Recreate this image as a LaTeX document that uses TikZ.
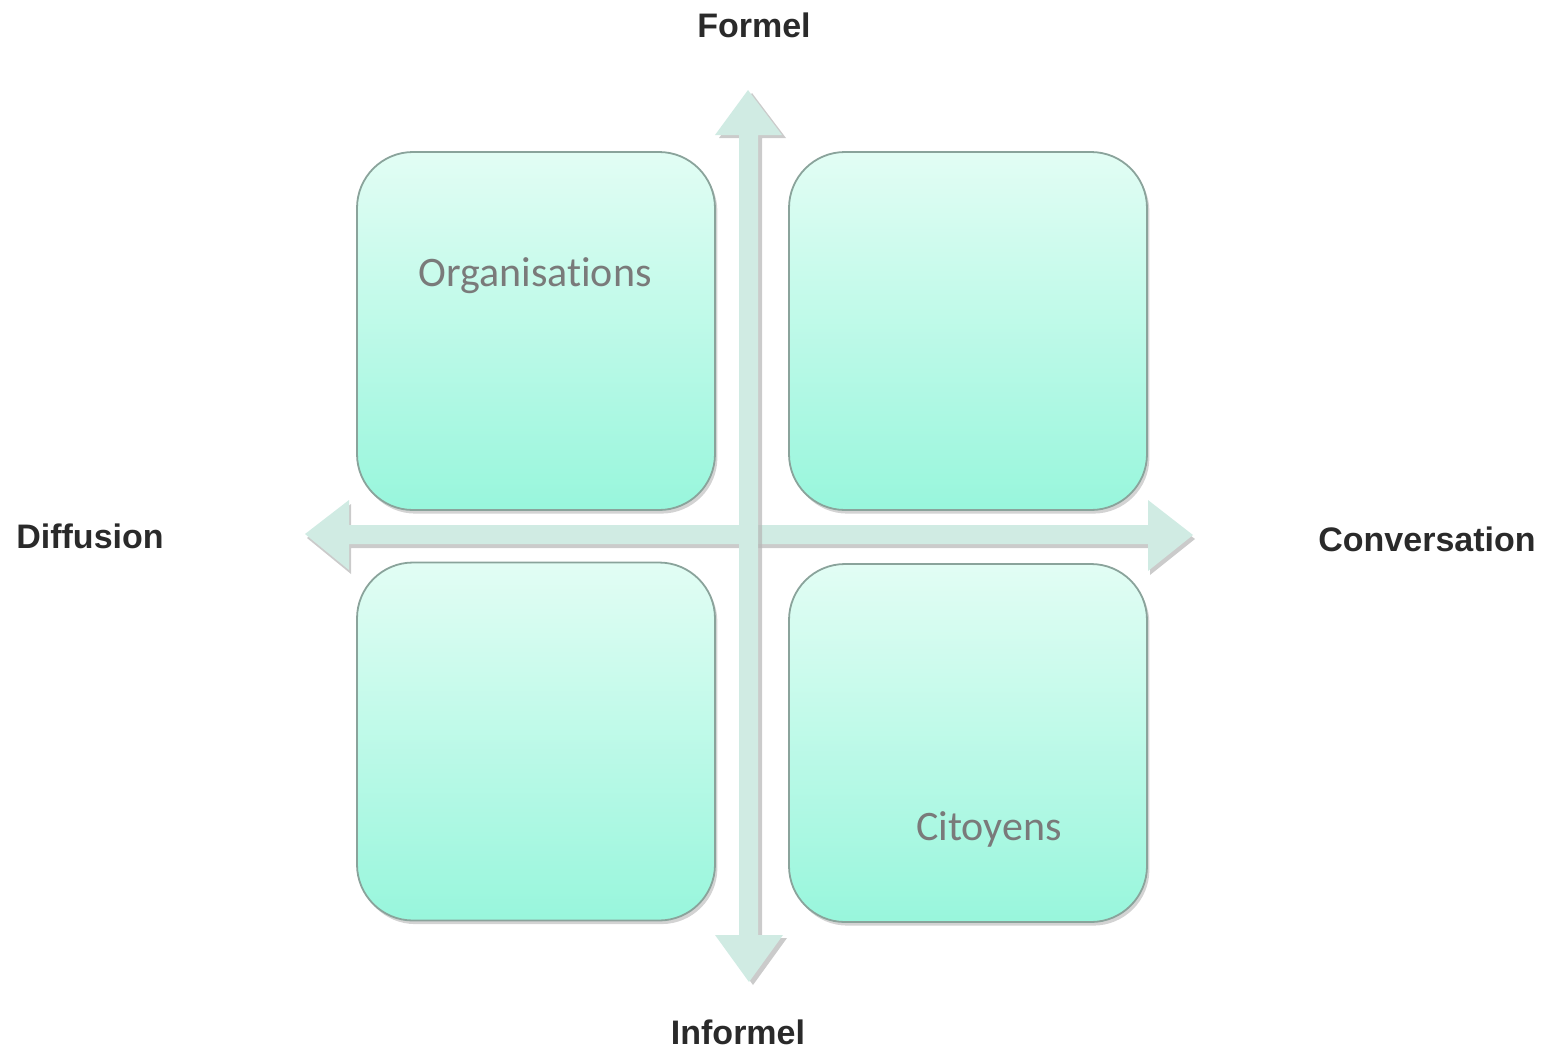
\documentclass[tikz,border=0pt]{standalone}
\usepackage{fontspec}
\setmainfont{Liberation Sans}
\newfontfamily\boxfont[Ligatures=NoCommon]{Carlito}
\usetikzlibrary{shadows}
\definecolor{arrowfill}{HTML}{D0EBE3}
\definecolor{arrowshadow}{HTML}{B5B5B5}
\definecolor{boxtop}{HTML}{E2FDF4}
\definecolor{boxbottom}{HTML}{98F6DC}
\definecolor{boxborder}{HTML}{8AA39B}
\definecolor{labeltext}{HTML}{2A2A2A}
\definecolor{boxtext}{HTML}{7A7A7A}
\tikzset{
  quad/.style={draw=boxborder, line width=0.9pt, rounded corners=28pt,
    top color=boxtop, bottom color=boxbottom,
    minimum width=179pt, minimum height=179pt, inner sep=0pt,
    drop shadow={opacity=0.35, shadow xshift=1.2pt, shadow yshift=-1.8pt}},
  axislabel/.style={font=\fontsize{17}{20}\selectfont\bfseries, text=labeltext, inner sep=0pt},
  quadlabel/.style={font=\boxfont\fontsize{21}{24}\selectfont, text=boxtext, inner sep=0pt},
  blockarrow/.style={fill=arrowfill, draw=none},
  arrowshade/.style={fill=arrowshadow, opacity=0.7, draw=none}
}
\begin{document}
\begin{tikzpicture}[x=0.5pt, y=-0.5pt]
\useasboundingbox (0,0) rectangle (1547,1051);

% quadrant boxes
\node[quad] (tl) at (536,331) {};
\node[quad] (tr) at (968,331) {};
\node[quad] (bl) at (536,741.5) {};
\node[quad] (br) at (968,743) {};

\node[quadlabel] (org) at (535,276) {Organisations};
\node[quadlabel] (cit) at (989,829) {Citoyens};

% horizontal double block arrow (shadow then fill)
\fill[arrowshade, shift={(2,4)}]
  (305,534) -- (349,500) -- (349,525) -- (1148,525) -- (1148,500) -- (1193,535)
  -- (1148,571) -- (1148,544) -- (349,544) -- (349,570) -- cycle;
\fill[blockarrow]
  (305,534) -- (349,500) -- (349,525) -- (1148,525) -- (1148,500) -- (1193,535)
  -- (1148,571) -- (1148,544) -- (349,544) -- (349,570) -- cycle;

% vertical double block arrow (shadow then fill)
\fill[arrowshade, shift={(4,3)}]
  (748,90) -- (782,135) -- (758,135) -- (758,935) -- (783,935) -- (749,982)
  -- (715,935) -- (739,935) -- (739,135) -- (715,135) -- cycle;
\fill[blockarrow]
  (748,90) -- (782,135) -- (758,135) -- (758,935) -- (783,935) -- (749,982)
  -- (715,935) -- (739,935) -- (739,135) -- (715,135) -- cycle;

% axis labels
\node[axislabel] (formel) at (754,25) {Formel};
\node[axislabel] (informel) at (738,1032) {Informel};
\node[axislabel] (diffusion) at (90,536) {Diffusion};
\node[axislabel] (conversation) at (1427,539) {Conversation};
\end{tikzpicture}
\end{document}
